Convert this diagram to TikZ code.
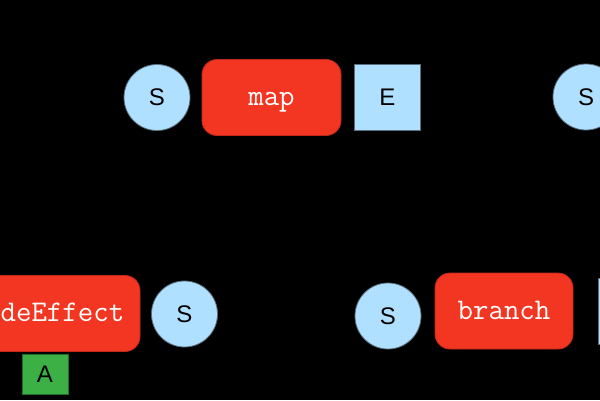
\documentclass[tikz,border=0pt]{standalone}
\usepackage{fontspec}
\newfontfamily\sansS{Liberation Sans}
\definecolor{opred}{RGB}{242,54,33}
\definecolor{opredb}{RGB}{190,40,25}
\definecolor{ltblue}{RGB}{176,224,255}
\definecolor{ltblueb}{RGB}{90,110,125}
\definecolor{grn}{RGB}{60,176,68}
\definecolor{grnb}{RGB}{30,110,40}
\tikzset{
  opbox/.style={draw=opredb, line width=0.8pt, fill=opred, rounded corners=15pt, minimum height=76pt, text=white, font=\ttfamily\fontsize{30}{30}\selectfont, inner sep=0pt, text height=16pt, text depth=0pt},
  schedc/.style={circle, draw=ltblueb, line width=0.8pt, fill=ltblue, minimum size=66pt, inner sep=0pt, text=black, font=\sansS\fontsize{24}{24}\selectfont},
  evbox/.style={draw=ltblueb, line width=0.8pt, fill=ltblue, minimum width=66pt, minimum height=66pt, inner sep=0pt, text=black, font=\sansS\fontsize{24}{24}\selectfont},
  actbox/.style={draw=grnb, line width=0.8pt, fill=grn, minimum width=46pt, minimum height=40pt, inner sep=0pt, text=black, font=\sansS\fontsize{24}{24}\selectfont}
}
\begin{document}
\begin{tikzpicture}[x=1pt,y=-1pt]
\fill[black] (0,0) rectangle (600,400);
\useasboundingbox (0,0) rectangle (600,400);
\node[schedc] (s1) at (157,97.5) {S};
\node[opbox, minimum width=139pt] (map) at (271.5,97.5) {map};
\node[evbox] (e1) at (387.5,97.5) {E};
\node[schedc] (s2) at (586,97) {S};
\node[opbox, minimum width=186pt] (side) at (47,313.5) {sideEffect};
\node[actbox] (a) at (45,374) {A};
\node[schedc] (s3) at (184.5,314) {S};
\node[schedc] (s4) at (388,316) {S};
\node[opbox, minimum width=138pt] (branch) at (504,311) {branch};
\node[evbox] (e2) at (631,311) {E};
\end{tikzpicture}
\end{document}
